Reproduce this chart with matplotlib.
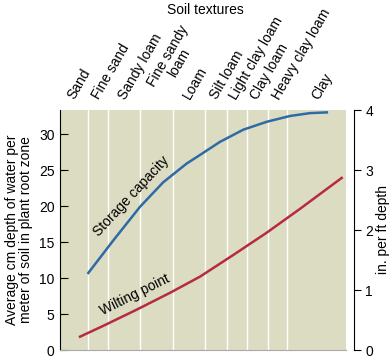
import matplotlib
matplotlib.use("Agg")
import matplotlib.pyplot as plt

plt.rcParams["font.family"] = ["Liberation Sans", "DejaVu Sans"]

# soil textures along the x axis (0-100 relative position)
texture_names = ["Sand", "Fine sand", "Sandy loam", "Fine sandy\nloam", "Loam",
                 "Silt loam", "Light clay loam", "Clay loam", "Heavy clay loam", "Clay"]
texture_label_x = [5.8, 14.5, 23.8, 38.0, 46.4, 55.8, 62.7, 70.0, 77.7, 91.5]
texture_label_y = [1.035, 1.035, 1.035, 1.06, 1.035, 1.035, 1.035, 1.035, 1.035, 1.035]
texture_bounds = [9.8, 16.8, 28.0, 39.5, 50.7, 58.4, 65.4, 72.7, 79.4]

# storage capacity, cm per m of soil
storage_x = [9.9, 18.6, 28.0, 36.1, 44.3, 49.0, 55.9, 64.1, 72.3, 80.4, 87.4, 93.3]
storage_cm = [10.7, 15.2, 19.9, 23.3, 25.9, 27.1, 28.9, 30.6, 31.7, 32.5, 32.9, 33.0]

# wilting point, cm per m of soil
wilting_x = [7.0, 15.1, 26.8, 38.5, 49.0, 60.6, 72.3, 83.9, 98.5]
wilting_cm = [1.85, 3.35, 5.6, 7.95, 10.2, 13.2, 16.3, 19.6, 23.9]

CM_PER_M_PER_IN_PER_FT = 100 / 12.0

BG = "#dcdcc2"
BLUE = "#2e6aa6"
RED = "#b52a44"

fig = plt.figure(figsize=(3.92, 3.58), dpi=100)
ax = fig.add_axes([60 / 392, 8 / 358, 286 / 392, 240 / 358])
ax.set_facecolor(BG)

for b in texture_bounds:
    ax.axvline(b, color="white", linewidth=1.0, zorder=1)

ax.plot(storage_x, storage_cm, color=BLUE, linewidth=1.8, zorder=3,
        solid_joinstyle="round")
ax.plot(wilting_x, wilting_cm, color=RED, linewidth=1.8, zorder=3,
        solid_joinstyle="round")

ax.text(24.8, 21.3, "Storage capacity", rotation=47, ha="center", va="center",
        fontsize=10, rotation_mode="anchor")
ax.text(26.0, 7.6, "Wilting point", rotation=26.5, ha="center", va="center",
        fontsize=10, rotation_mode="anchor")

ax.set_xlim(0, 100)
ax.set_ylim(0, 4 * CM_PER_M_PER_IN_PER_FT)
ax.set_xticks([])
ax.set_yticks([0, 5, 10, 15, 20, 25, 30])
ax.tick_params(axis="y", direction="in", length=6, width=0.8, labelsize=10, pad=4)
ax.spines["top"].set_visible(False)
ax.spines["right"].set_visible(False)
ax.spines["bottom"].set_color("#a8a8a8")
ax.spines["left"].set_color("black")
ax.set_ylabel("Average cm depth of water per\nmeter of soil in plant root zone",
              fontsize=10, labelpad=4, linespacing=1.0)

for name, x, y in zip(texture_names, texture_label_x, texture_label_y):
    ax.text(x, y, name, transform=ax.get_xaxis_transform(), rotation=60,
            rotation_mode="anchor", ha="left", va="bottom", fontsize=10,
            multialignment="center", linespacing=1.0, clip_on=False)

fig.text(0.523, 0.972, "Soil textures", ha="center", va="center", fontsize=10)

ax2 = ax.twinx()
ax2.set_ylim(0, 4)
ax2.set_yticks([0, 1, 2, 3, 4])
ax2.spines["right"].set_position(("outward", 6))
ax2.spines["top"].set_visible(False)
ax2.spines["left"].set_visible(False)
ax2.spines["bottom"].set_visible(False)
ax2.tick_params(axis="y", direction="out", length=5, width=0.8, labelsize=10, pad=3)
ax2.set_ylabel("in. per ft depth", fontsize=10, labelpad=2)

fig.savefig("out.png", dpi=100)
